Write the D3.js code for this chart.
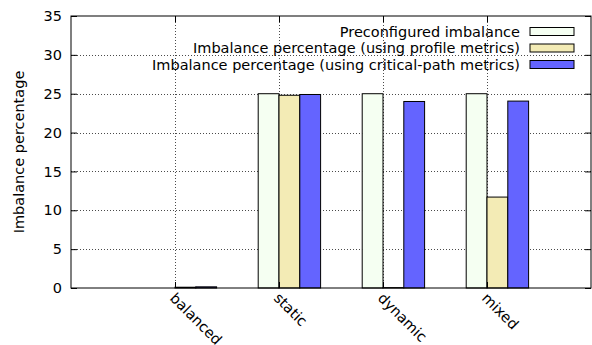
<!DOCTYPE html>
<html>
<head>
<meta charset="utf-8">
<script src="https://cdn.jsdelivr.net/npm/d3@7"></script>
<style>
  body { margin: 0; background: #fff; }
  text { font-family: "DejaVu Sans", sans-serif; font-size: 14.5px; fill: #000; }
</style>
</head>
<body>
<svg id="chart" width="592" height="345"></svg>
<script>
// categories and series
const categories = ["balanced", "static", "dynamic", "mixed"];
const seriesNames = [
  "Preconfigured imbalance",
  "Imbalance percentage (using profile metrics)",
  "Imbalance percentage (using critical-path metrics)"
];
const preconfigured = [0, 25, 25, 25];
const profileMetrics = [0.1, 24.8, 0.05, 11.7];
const criticalPath = [0.15, 24.9, 24.0, 24.05];
const yTicks = [0, 5, 10, 15, 20, 25, 30, 35];
const colors = ["#f5fff2", "#f3ebb5", "#6464ff"];

const series = [preconfigured, profileMetrics, criticalPath];

const svg = d3.select("#chart");
const margin = { left: 71, right: 1, top: 16, bottom: 57 };
const W = 592, H = 345;

const x = d3.scaleLinear().domain([-1, 4]).range([margin.left, W - margin.right]);
const y = d3.scaleLinear().domain([0, 35]).range([H - margin.bottom, margin.top]);

// grid
const grid = svg.append("g").attr("stroke", "#000").attr("stroke-width", 1)
  .attr("stroke-dasharray", "1,2").attr("opacity", 0.7);
yTicks.slice(1, -1).forEach(t => {
  grid.append("line").attr("x1", x(-1)).attr("x2", x(4))
    .attr("y1", Math.round(y(t)) + 0.5).attr("y2", Math.round(y(t)) + 0.5);
});
categories.forEach((c, i) => {
  grid.append("line").attr("x1", Math.round(x(i)) + 0.5).attr("x2", Math.round(x(i)) + 0.5)
    .attr("y1", y(35)).attr("y2", y(0));
});

// bars
const bw = 0.2;
series.forEach((vals, j) => {
  svg.append("g").selectAll("rect").data(vals).join("rect")
    .attr("x", (d, i) => x(i + (j - 1) * bw))
    .attr("width", x(bw) - x(0))
    .attr("y", d => y(d))
    .attr("height", d => y(0) - y(d))
    .attr("fill", colors[j])
    .attr("stroke", "#000")
    .attr("stroke-width", 1);
});

// axes
const axLeft = svg.append("g").attr("transform", `translate(${x(-1)},0)`)
  .call(d3.axisLeft(y).tickValues(yTicks).tickSize(-6).tickPadding(9));
const axRight = svg.append("g").attr("transform", `translate(${x(4)},0)`)
  .call(d3.axisRight(y).tickValues(yTicks).tickSize(-6).tickFormat(""));
const axTop = svg.append("g").attr("transform", `translate(0,${y(35)})`)
  .call(d3.axisTop(x).tickValues(d3.range(categories.length)).tickSize(-6).tickFormat(""));
const axBottom = svg.append("g").attr("transform", `translate(0,${y(0)})`)
  .call(d3.axisBottom(x).tickValues(d3.range(categories.length)).tickSize(-6).tickFormat(""));
[axLeft, axRight, axTop, axBottom].forEach(g => {
  g.select(".domain").remove();
  g.selectAll("text").style("font-size", "14.5px").attr("font-family", "DejaVu Sans");
});

// border
svg.append("rect").attr("x", x(-1)).attr("y", y(35))
  .attr("width", x(4) - x(-1)).attr("height", y(0) - y(35))
  .attr("fill", "none").attr("stroke", "#000").attr("stroke-width", 1);

// x labels rotated
svg.append("g").selectAll("text").data(categories).join("text")
  .attr("transform", (d, i) => `translate(${x(i) - 6},${y(0) + 11}) rotate(45)`)
  .attr("text-anchor", "start")
  .text(d => d);

// y label
svg.append("text")
  .attr("transform", `translate(24,${(y(0) + y(35)) / 2}) rotate(-90)`)
  .attr("text-anchor", "middle")
  .text("Imbalance percentage");

// legend
const legend = svg.append("g");
seriesNames.forEach((name, j) => {
  const cy = 31.5 + j * 16.5;
  legend.append("text").attr("x", 520).attr("y", cy).attr("dy", "0.35em")
    .attr("text-anchor", "end").text(name);
  legend.append("rect").attr("x", 530).attr("y", cy - 4).attr("width", 44).attr("height", 8)
    .attr("fill", colors[j]).attr("stroke", "#000").attr("stroke-width", 1);
});
</script>
</body>
</html>
